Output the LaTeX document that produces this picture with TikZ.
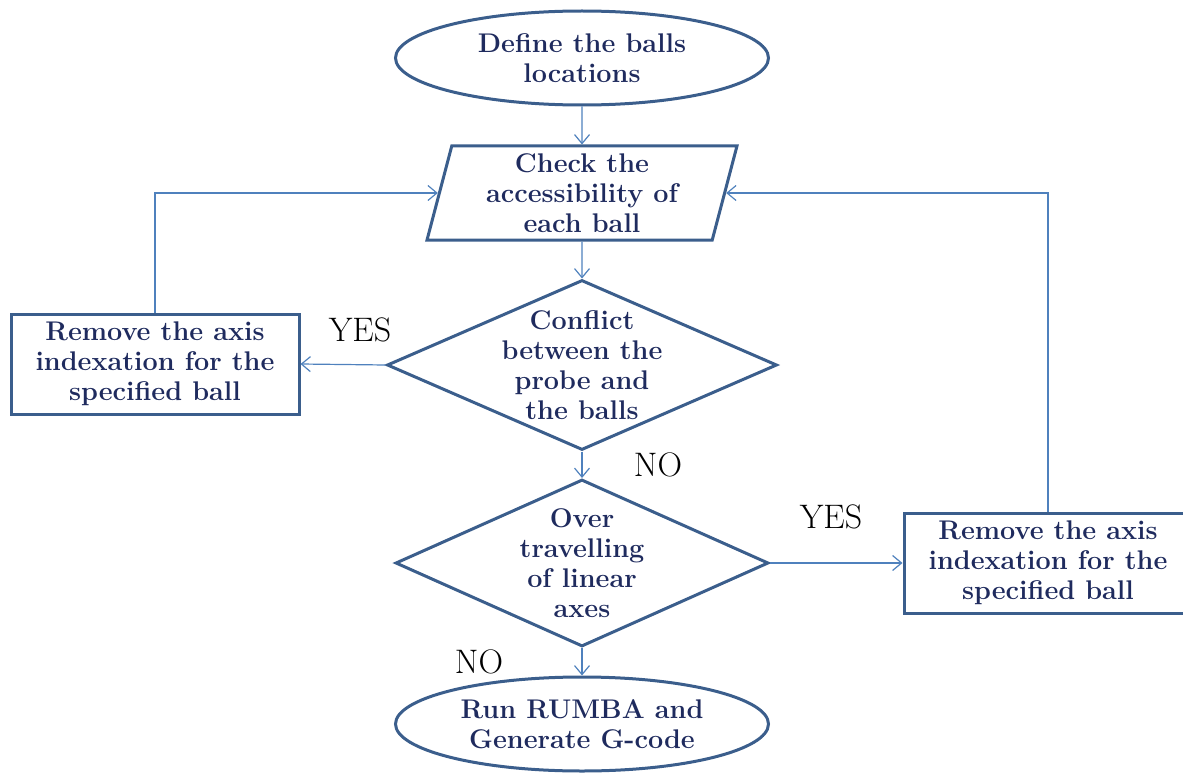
\documentclass[tikz,border=0pt]{standalone}
\usetikzlibrary{shapes.geometric,arrows.meta}

\definecolor{shapeblue}{HTML}{3B5E8C}
\definecolor{linkblue}{HTML}{4F81BD}
\definecolor{textnavy}{HTML}{1F2B5E}

\tikzset{
  base/.style={draw=shapeblue, line width=3pt, text=textnavy, align=center, inner sep=0pt,
    font=\fontsize{27}{30}\selectfont\bfseries},
  terminal/.style={base, ellipse, minimum width=373pt, minimum height=94pt},
  iobox/.style={base, trapezium, trapezium left angle=77, trapezium right angle=103,
    trapezium stretches=true, minimum width=311pt, minimum height=94pt},
  decision/.style={base, diamond, aspect=2.2, inner sep=-6pt},
  actionbox/.style={base, rectangle, minimum width=288pt, minimum height=100pt},
  link/.style={draw=linkblue, line width=1.2pt, -{Straight Barb[length=9pt,width=15pt]}},
  answer/.style={font=\fontsize{34}{34}\selectfont}
}

\begin{document}
\begin{tikzpicture}[x=1pt,y=1pt]
    \useasboundingbox (0,0) rectangle (1183,-773);

    % main column
    \node[terminal] (start) at (582,-58) {Define the balls\\locations};
    \node[iobox] (check) at (582,-193) {Check the\\accessibility of\\each ball};
    \node[decision, minimum width=390pt, minimum height=170pt] (conflict) at (582,-365)
      {Conflict\\between the\\probe and\\the balls};
    \node[decision, minimum width=373pt, minimum height=167pt] (travel) at (582,-563)
      {Over\\travelling\\of linear\\axes};
    \node[terminal] (finish) at (582,-724) {Run RUMBA and\\Generate G-code};

    % side boxes
    \node[actionbox] (leftfix) at (155,-364) {Remove the axis\\indexation for the\\specified ball};
    \node[actionbox] (rightfix) at (1048,-563) {Remove the axis\\indexation for the\\specified ball};

    % answers
    \node[answer] (yesleft) at (360,-330) {YES};
    \node[answer] (noup) at (658,-465) {NO};
    \node[answer] (yesright) at (831,-517) {YES};
    \node[answer] (nodown) at (479,-662) {NO};

    \draw[link] (start.south) -- (check.north);
    \draw[link] (check.south) -- (conflict.north);
    \draw[link] (conflict.south) -- (travel.north);
    \draw[link] (travel.south) -- (finish.north);
    \draw[link] (conflict.west) -- (leftfix.east);
    \draw[link] (travel.east) -- (rightfix.west);
    \draw[link] (leftfix.north) |- (check.west);
    \draw[link] (rightfix.north) |- (check.east);
\end{tikzpicture}
\end{document}
